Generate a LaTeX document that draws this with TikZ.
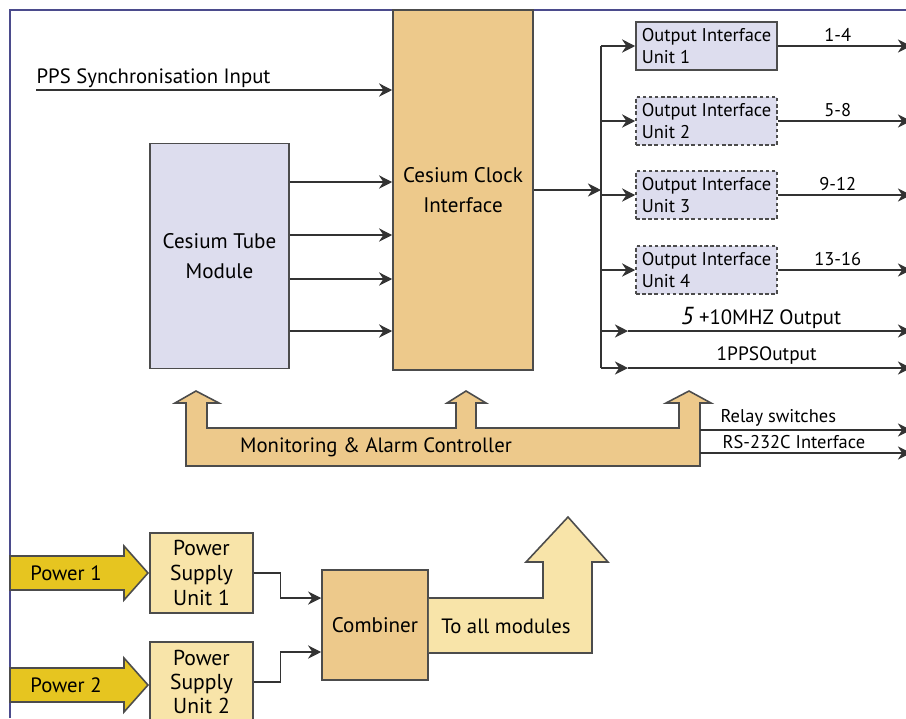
\documentclass[tikz,border=0pt]{standalone}
\usepackage{fontspec}
\setmainfont{PT Sans}
\usetikzlibrary{arrows.meta}

\definecolor{lavbox}{HTML}{DDDDEE}
\definecolor{tanbox}{HTML}{EDC98B}
\definecolor{creambox}{HTML}{F8E4A9}
\definecolor{powyel}{HTML}{E6C520}
\definecolor{framecol}{HTML}{4B4B8C}

\begin{document}
\begin{tikzpicture}[x=0.02cm, y=-0.02cm, line width=0.7pt, draw=black!80,
    >={Stealth[length=7.5pt,width=7.5pt]},
    every node/.style={font=\fontsize{11.8}{13}\selectfont},
    blok/.style={draw=black!70, line width=0.9pt, align=center, inner sep=0pt},
    bigtxt/.style={font=\fontsize{12}{17}\selectfont},
    oiu/.style={blok, fill=lavbox, minimum width=2.82cm, minimum height=0.96cm,
        align=left, font=\fontsize{10.5}{12.5}\selectfont},
    spare/.style={dash pattern=on 2pt off 1.5pt},
    psu/.style={blok, fill=creambox, minimum width=2.06cm, minimum height=1.6cm,
        font=\fontsize{12.3}{14}\selectfont},
    sidetxt/.style={above right, inner xsep=0pt, inner ysep=2pt, font=\fontsize{10.5}{12}\selectfont},
    outl/.style={draw=black!70, line width=0.9pt}]
    \useasboundingbox (0,0) rectangle (906,718);

    % Rahmen
    \draw[framecol, line width=0.8pt] (10,718) -- (10,10) -- (906,10);
    \coordinate (edge) at (911,0);
    \coordinate (bus) at (601,0);

    % Hauptbloecke
    \node[blok, bigtxt, fill=lavbox, minimum width=2.78cm, minimum height=4.5cm]
        (tube) at (219.5,256) {Cesium Tube\\Module};
    \node[blok, bigtxt, fill=tanbox, minimum width=2.8cm, minimum height=7.2cm]
        (clock) at (463,190) {Cesium Clock\\Interface};

    % Synchronisationseingang
    \coordinate (ppsin) at (36,90);
    \draw[->] (ppsin) -- (ppsin -| clock.west);
    \node[above right, inner xsep=0pt, inner ysep=1pt] (ppslbl) at (ppsin) {PPS Synchronisation Input};

    % Signale Tube -> Clock
    \foreach \y in {182,235,279,331}
        \draw[->] (tube.east |- 0,\y) -- (clock.west |- 0,\y);

    % Ausgangseinheiten
    \node[oiu] (oiu1) at (706.5,46) {Output Interface\\Unit 1};
    \node[oiu, spare] (oiu2) at (706.5,121) {Output Interface\\Unit 2};
    \node[oiu, spare] (oiu3) at (706.5,195) {Output Interface\\Unit 3};
    \node[oiu, spare] (oiu4) at (706.5,270) {Output Interface\\Unit 4};

    \draw[->] (clock.east) -- (bus |- clock.east);
    \draw (bus |- oiu1) -- (bus |- 0,368);
    \foreach \i/\ch in {1/1-4,2/5-8,3/9-12,4/13-16} {
        \draw[->] (bus |- oiu\i) -- (oiu\i.west);
        \draw[->] (oiu\i.east) -- (oiu\i.east -| edge)
            node[pos=0.45, above, inner ysep=2pt, font=\fontsize{10.5}{12}\selectfont] {\ch};
    }

    % 10 MHz und 1PPS
    \coordinate (o5) at (601,331);
    \coordinate (o6) at (601,368);
    \draw[->] (o5) -- ++(27,0) coordinate (m5);
    \draw[->] (m5) -- (m5 -| edge)
        node[pos=0.47, above, inner ysep=1pt] {{\fontsize{14}{14}\selectfont\itshape 5} +10MHZ Output};
    \draw[->] (o6) -- ++(27,0) coordinate (m6);
    \draw[->] (m6) -- (m6 -| edge)
        node[pos=0.49, above, inner ysep=1.5pt, font=\fontsize{11}{13}\selectfont] {1PPSOutput};

    % Ueberwachung
    \draw[outl, fill=tanbox] (186,466) -- (186,403) -- (175,403) -- (196,391) -- (219,403)
        -- (207,403) -- (207,428) -- (456,428) -- (456,403) -- (447,403) -- (466,391)
        -- (486,403) -- (476,403) -- (476,428) -- (679,428) -- (679,403) -- (666,403)
        -- (689,391) -- (711,403) -- (700,403) -- (700,466) -- cycle;
    \node (mon) at (376,447) {Monitoring \& Alarm Controller};

    \coordinate (relay) at (700,430);
    \coordinate (rs) at (700,453);
    \draw[->] (relay) -- (relay -| edge);
    \draw[->] (rs) -- (rs -| edge);
    \node[sidetxt] (relaylbl) at ([xshift=0.4cm]relay) {Relay switches};
    \node[sidetxt] (rslbl) at ([xshift=0.44cm]rs) {RS-232C Interface};

    % Stromversorgung
    \foreach \y/\n in {573/1,685/2} {
        \draw[outl, fill=powyel] (10,\y-17) -- (124,\y-17) -- (124,\y-27) -- (148,\y)
            -- (124,\y+27) -- (124,\y+17) -- (10,\y+17) -- cycle;
        \node (pw\n) at (66,\y) {Power \n};
    }
    \node[psu] (psu1) at (201.5,573) {Power\\Supply\\Unit 1};
    \node[psu, font=\fontsize{12.3}{13.5}\selectfont] (psu2) at (201.5,682) {Power\\Supply\\Unit 2};

    \node[blok, fill=tanbox, minimum width=2.12cm, minimum height=2.2cm,
        font=\fontsize{12}{14}\selectfont] (comb) at (375,625) {Combiner};
    \draw[->] (psu1.east) -- ++(27,0) |- ([yshift=0.54cm]comb.west);
    \draw[->] (psu2.east) -- ++(27,0) |- ([yshift=-0.54cm]comb.west);

    % Verteilung an alle Module
    \draw[outl, fill=creambox] (comb.east |- 0,598) -- (543,598) -- (543,562) -- (526,562)
        -- (568,517) -- (608,562) -- (592,562) -- (592,653) -- (comb.east |- 0,653);
    \node[font=\fontsize{11.8}{14}\selectfont] (alle) at (506,626) {To all modules};
\end{tikzpicture}
\end{document}
